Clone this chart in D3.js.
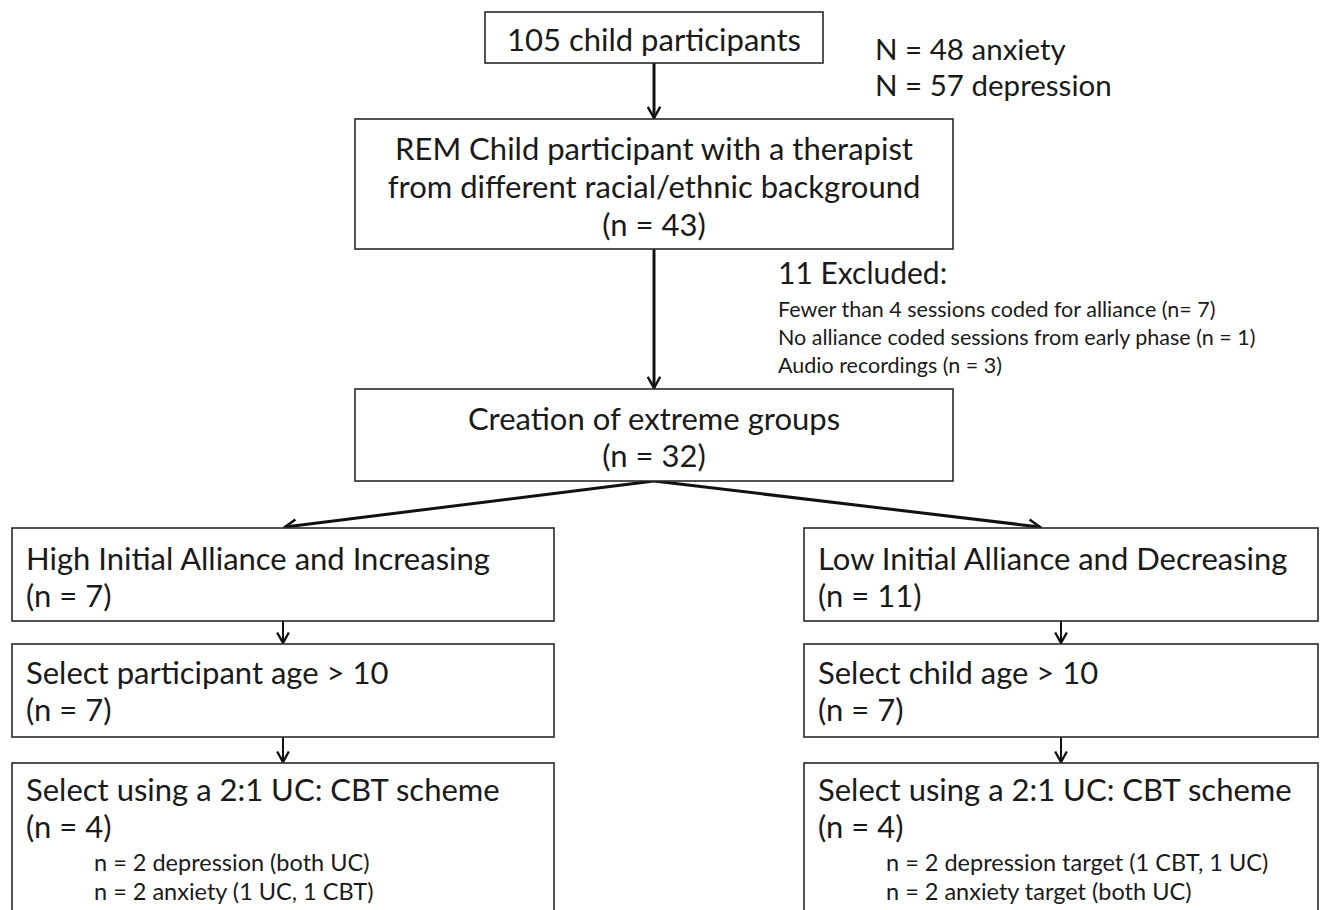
<!DOCTYPE html>
<html>

<head>
    <meta charset="utf-8">
    <title>Participant flow</title>
    <script src="https://d3js.org/d3.v7.min.js"></script>
    <style>
        body { margin: 0; background: #fff; }
        text { font-family: Lato, "Open Sans", sans-serif; fill: #1a1a1a; }
    </style>
</head>

<body>
    <svg id="flow" width="1327" height="910"></svg>
    <script>
        // Chart content
        const totalN = 105;
        const targetNames = ["anxiety", "depression"];
        const targetN = [48, 57];
        const mismatchN = 43;
        const excludedN = 11;
        const exclusionLabels = [
            "Fewer than 4 sessions coded for alliance (n= 7)",
            "No alliance coded sessions from early phase (n = 1)",
            "Audio recordings (n = 3)"
        ];
        const extremeN = 32;
        const groupNames = ["High Initial Alliance and Increasing", "Low Initial Alliance and Decreasing"];
        const groupN = [7, 11];
        const ageSteps = ["Select participant age > 10", "Select child age > 10"];
        const ageN = [7, 7];
        const schemeStep = "Select using a 2:1 UC: CBT scheme";
        const schemeN = [4, 4];
        const breakdown = [
            ["n = 2 depression (both UC)", "n = 2 anxiety (1 UC, 1 CBT)"],
            ["n = 2 depression target (1 CBT, 1 UC)", "n = 2 anxiety target (both UC)"]
        ];

        const svg = d3.select("#flow");

        // arrow head (open chevron)
        const defs = svg.append("defs");
        [["big", 5], ["small", 7]].forEach(([id, s]) => {
            defs.append("marker")
                .attr("id", "arrow-" + id)
                .attr("viewBox", "0 0 12 12")
                .attr("refX", 10).attr("refY", 6)
                .attr("markerWidth", s)
                .attr("markerHeight", s)
                .attr("markerUnits", "strokeWidth")
                .attr("orient", "auto")
                .append("path")
                .attr("d", "M1,1 L10,6 L1,11")
                .attr("fill", "none")
                .attr("stroke", "#111")
                .attr("stroke-width", 2);
        });

        // columns for the two branches
        const col = d3.scaleOrdinal().domain([0, 1]).range([[12, 554], [804, 1318]]);
        // row tops for the branch boxes
        const rowY = d3.scaleOrdinal().domain(["group", "age", "scheme"]).range([528, 644, 763]);
        const rowH = 93;

        function box(x0, x1, y0, y1) {
            svg.append("rect")
                .attr("x", x0).attr("y", y0)
                .attr("width", x1 - x0).attr("height", y1 - y0)
                .attr("fill", "#fff")
                .attr("stroke", "#2a2a2a")
                .attr("stroke-width", 1.6);
        }

        function lines(list, x, y0, step, size, anchor) {
            svg.append("g").selectAll("text")
                .data(list)
                .join("text")
                .attr("x", x)
                .attr("y", (d, i) => y0 + i * step)
                .attr("text-anchor", anchor)
                .style("font-size", size + "px")
                .text(d => d);
        }

        function arrow(x1, y1, x2, y2, kind) {
            svg.append("line")
                .attr("x1", x1).attr("y1", y1)
                .attr("x2", x2).attr("y2", y2)
                .attr("stroke", "#111")
                .attr("stroke-width", kind === "big" ? 3 : 2)
                .attr("marker-end", "url(#arrow-" + kind + ")");
        }

        const cx = 654;
        const big = 31;

        // arrows first so boxes sit on top
        arrow(cx, 63, cx, 118, "big");
        arrow(cx, 249, cx, 388, "big");
        arrow(cx, 481, 285, 527, "big");
        arrow(cx, 481, 1040, 527, "big");
        [0, 1].forEach(k => {
            const [x0, x1] = col(k);
            const mx = (x0 + x1) / 2;
            arrow(mx, rowY("group") + rowH, mx, rowY("age") - 1, "small");
            arrow(mx, rowY("age") + rowH, mx, rowY("scheme") - 1, "small");
        });

        // top box
        box(485, 823, 12, 63);
        lines([totalN + " child participants"], cx, 51, 0, big, "middle");

        lines(targetNames.map((t, i) => "N = " + targetN[i] + " " + t), 875, 60, 36, 29.5, "start");

        box(355, 953, 119, 249);
        lines([
            "REM Child participant with a therapist",
            "from different racial/ethnic background",
            "(n = " + mismatchN + ")"
        ], cx, 160, 38, big, "middle");

        lines([excludedN + " Excluded:"], 778, 284, 0, 30, "start");
        lines(exclusionLabels, 778, 317, 28, 21.5, "start");

        box(355, 953, 389, 481);
        lines(["Creation of extreme groups", "(n = " + extremeN + ")"], cx, 430, 37, big, "middle");

        // branch boxes
        [0, 1].forEach(k => {
            const [x0, x1] = col(k);
            const tx = x0 + 14;
            box(x0, x1, rowY("group"), rowY("group") + rowH);
            lines([groupNames[k], "(n = " + groupN[k] + ")"], tx, rowY("group") + 42, 37, big, "start");

            box(x0, x1, rowY("age"), rowY("age") + rowH);
            lines([ageSteps[k], "(n = " + ageN[k] + ")"], tx, rowY("age") + 40, 37, big, "start");

            box(x0, x1, rowY("scheme"), 930);
            lines([schemeStep, "(n = " + schemeN[k] + ")"], tx, rowY("scheme") + 38, 37, big, "start");
            lines(breakdown[k], x0 + 82, rowY("scheme") + 108, 29, 23.5, "start");
        });
    </script>
</body>

</html>
